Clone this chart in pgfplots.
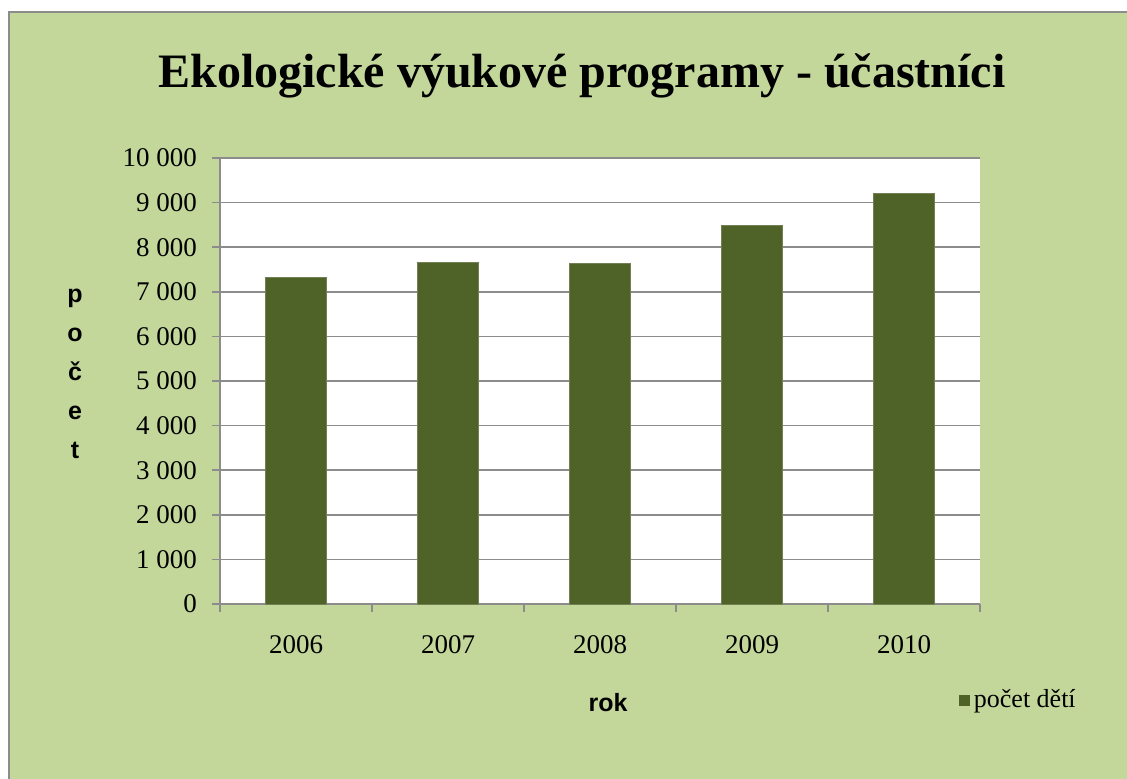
\documentclass[border=0pt]{standalone}
\usepackage{pgfplots}
\pgfplotsset{compat=1.18}
\usepackage{fontspec}
\setmainfont{Liberation Serif}
\newfontfamily\arialfont{Liberation Sans}
\definecolor{bg}{HTML}{C4D79B}
\definecolor{barc}{HTML}{4F6228}
\definecolor{gridc}{HTML}{8C8C8C}
\begin{document}
\begin{tikzpicture}
\useasboundingbox (0pt,0pt) rectangle (563.5pt,389pt);
\fill[bg, draw=gridc, line width=1pt] (4.5pt,383pt) rectangle (575pt,-10pt);
\node[font=\fontsize{24}{28}\selectfont\bfseries] at (291pt,351pt) {Ekologické výukové programy - účastníci};
\node[font=\arialfont\bfseries\fontsize{12.5}{19.5}\selectfont, align=center] at (37.5pt,202pt) {p\\o\\č\\e\\t};
\node[font=\arialfont\bfseries\fontsize{12.5}{15}\selectfont] at (304pt,37.5pt) {rok};
\begin{axis}[
  at={(110pt,87pt)}, anchor=south west,
  scale only axis, width=380pt, height=223pt,
  axis background/.style={fill=white},
  ybar, bar width=0.4,
  xmin=-0.5, xmax=4.5, ymin=0, ymax=10000,
  xtick={0,1,2,3,4}, xticklabels={2006,2007,2008,2009,2010},
  minor xtick={-0.5,0.5,1.5,2.5,3.5,4.5},
  ytick={0,1000,...,10000},
  scaled y ticks=false,
  axis x line*=bottom, axis y line*=left,
  axis line style={gridc, line width=0.8pt, -},
  ymajorgrids, grid style={gridc, line width=0.8pt},
  tick align=outside,
  major x tick style={draw=none},
  minor x tick style={gridc, line width=0.8pt},
  major y tick style={gridc, line width=0.8pt},
  major tick length=4pt, minor tick length=4pt,
  tick label style={font=\fontsize{13.5}{15}\selectfont},
  /pgf/number format/assume math mode=true,
  /pgf/number format/fixed,
  /pgf/number format/1000 sep={\ },
  xticklabel style={yshift=-8pt},
  yticklabel style={xshift=-4pt},
  legend style={at={(0.972,-0.215)}, anchor=west, draw=none, fill=none, font=\fontsize{13}{15}\selectfont, inner sep=0pt},
  legend image code/.code={\fill[barc] (0pt,-2.5pt) rectangle (5pt,2.5pt);},
]
\addplot[fill=barc, draw=barc!80!white] coordinates {(0,7320) (1,7660) (2,7630) (3,8490) (4,9215)};
\addlegendentry{počet dětí}
\end{axis}
\end{tikzpicture}
\end{document}
